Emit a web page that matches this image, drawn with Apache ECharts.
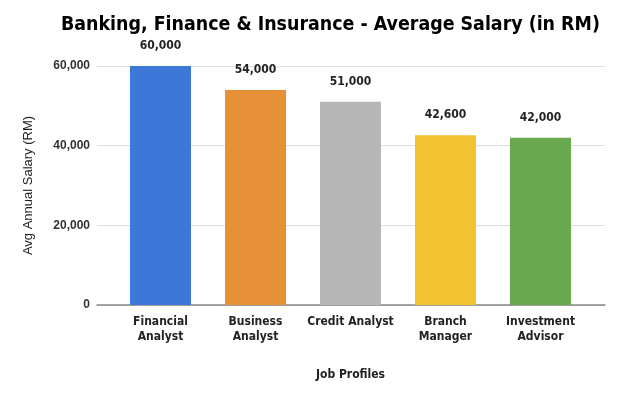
<!DOCTYPE html>
<html>
<head>
<meta charset="utf-8">
<script src="https://cdn.jsdelivr.net/npm/echarts@6/dist/echarts.min.js"></script>
<style>
  html, body { margin: 0; padding: 0; background: #fff; }
  #chart { width: 624px; height: 397px; }
</style>
</head>
<body>
<div id="chart"></div>
<script>
// job profiles and salaries
const categories = ['Financial\nAnalyst', 'Business\nAnalyst', 'Credit Analyst', 'Branch\nManager', 'Investment\nAdvisor'];
const salaries = [60000, 54000, 51000, 42600, 42000];
const barColors = ['#3c78d8', '#e69138', '#b7b7b7', '#f1c232', '#6aa84f'];
const yTicks = [0, 20000, 40000, 60000];

const fmt = (v) => v.toLocaleString('en-US');
const font = 'DejaVu Sans Condensed';

const chartDom = document.getElementById('chart');
const chart = echarts.init(chartDom);

const options = {
  animation: false,
  title: {
    text: 'Banking, Finance & Insurance - Average Salary (in RM)',
    left: 56,
    top: 10,
    textStyle: {fontFamily: font, fontWeight: 'bold', fontSize: 19.4, color: '#000'},
  },
  grid: [
    // full width grid, carries the gridlines and value labels
    {left: 97, right: 19, top: 66, bottom: 92},
    // bars grid, a bit narrower like the original
    {left: 113, right: 36, top: 66, bottom: 92},
  ],
  xAxis: [
    {
      gridIndex: 0,
      type: 'value',
      min: 0,
      max: 1,
      axisLine: {show: true, lineStyle: {color: '#888', width: 1.5}},
      axisTick: {show: false},
      axisLabel: {show: false},
      splitLine: {show: false},
    },
    {
      gridIndex: 1,
      type: 'category',
      data: categories,
      axisLine: {show: false},
      axisTick: {show: false},
      axisLabel: {
        interval: 0,
        margin: 9,
        fontFamily: font,
        fontWeight: 'bold',
        fontSize: 12,
        lineHeight: 15,
        color: '#222',
      },
      name: 'Job Profiles',
      nameLocation: 'middle',
      nameGap: 64,
      nameTextStyle: {fontFamily: font, fontWeight: 'bold', fontSize: 12, color: '#222'},
    },
  ],
  yAxis: [
    {
      gridIndex: 0,
      type: 'value',
      min: 0,
      max: 60000,
      interval: 20000,
      axisLine: {show: false},
      axisTick: {show: false},
      axisLabel: {
        formatter: (v) => yTicks.includes(v) ? fmt(v) : '',
        margin: 7,
        fontFamily: 'Liberation Sans',
        fontWeight: 'bold',
        fontSize: 12,
        color: '#333',
      },
      splitLine: {lineStyle: {color: '#dedede'}},
      name: 'Avg Annual Salary (RM)',
      nameLocation: 'middle',
      nameGap: 62,
      nameTextStyle: {fontFamily: 'Liberation Sans', fontSize: 13, color: '#222'},
    },
    {
      gridIndex: 1,
      type: 'value',
      min: 0,
      max: 60000,
      show: false,
    },
  ],
  series: [
    {
      type: 'bar',
      xAxisIndex: 1,
      yAxisIndex: 1,
      barWidth: 61,
      data: salaries.map((v, i) => ({value: v, itemStyle: {color: barColors[i]}})),
      label: {
        show: true,
        position: 'top',
        distance: 14,
        formatter: (p) => fmt(p.value),
        fontFamily: font,
        fontWeight: 'bold',
        fontSize: 12,
        color: '#222',
      },
      z: 3,
    },
  ],
};

chart.setOption(options);
window.addEventListener('resize', chart.resize);
</script>
</body>
</html>
